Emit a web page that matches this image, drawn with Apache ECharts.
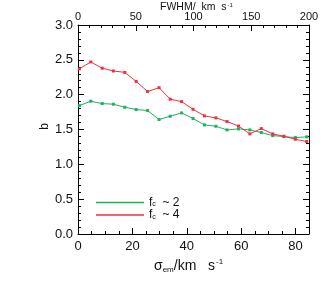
<!DOCTYPE html>
<html>
<head>
<meta charset="utf-8">
<script src="https://cdn.jsdelivr.net/npm/echarts@6/dist/echarts.min.js"></script>
<style>html,body{margin:0;padding:0;background:#fff;}#c{width:332px;height:285px;}</style>
</head>
<body>
<div id="c"></div>
<script>
// sigma_em values (km/s)
const sigmaValues = [0.5, 4.7, 8.9, 13.0, 17.2, 21.4, 25.6, 29.8, 33.9, 38.1, 42.3, 46.5, 50.7, 54.8, 59.0, 63.2, 67.4, 71.6, 75.7, 79.9, 84.1];
// b for f_c ~ 2
const bFc2 = [1.843, 1.906, 1.872, 1.863, 1.82, 1.786, 1.772, 1.643, 1.69, 1.738, 1.657, 1.566, 1.547, 1.494, 1.509, 1.494, 1.456, 1.413, 1.398, 1.384, 1.394];
// b for f_c ~ 4
const bFc4 = [2.37, 2.47, 2.38, 2.34, 2.32, 2.19, 2.045, 2.10, 1.935, 1.90, 1.79, 1.695, 1.667, 1.614, 1.55, 1.437, 1.513, 1.437, 1.403, 1.36, 1.327];
const bottomTicks = [0, 20, 40, 60, 80];
const topTicks = [0, 50, 100, 150, 200];
const yTicks = [0.0, 0.5, 1.0, 1.5, 2.0, 2.5, 3.0];

const FONT = 'Liberation Sans';
const sigmaMax = 200 / 2.3548;
const axisCommon = {
  axisLine: {show: true, onZero: false, lineStyle: {color: '#000', width: 1}},
  axisTick: {show: true, inside: true, length: 6, lineStyle: {color: '#000', width: 1}},
  minorTick: {show: true, length: 3, lineStyle: {color: '#000', width: 1}},
  splitLine: {show: false}
};
const gridBox = {left: 78, right: 23, top: 25, bottom: 51};
const chart = echarts.init(document.getElementById('c'));
chart.setOption({
  animation: false,
  backgroundColor: '#fff',
  grid: [Object.assign({}, gridBox), Object.assign({}, gridBox)],
  xAxis: [
    Object.assign({}, axisCommon, {
      gridIndex: 0, type: 'value', position: 'bottom', min: 0, max: sigmaMax, interval: 20,
      minorTick: Object.assign({}, axisCommon.minorTick, {splitNumber: 4}),
      axisLabel: {fontFamily: FONT, fontSize: 13, color: '#111', margin: 6, showMaxLabel: false, showMinLabel: true, hideOverlap: false,
        formatter: v => bottomTicks.includes(Math.round(v)) && Math.abs(v - Math.round(v)) < 1e-6 ? String(Math.round(v)) : ''}
    }),
    Object.assign({}, axisCommon, {
      gridIndex: 1, type: 'value', position: 'top', min: 0, max: 200, interval: 50,
      minorTick: Object.assign({}, axisCommon.minorTick, {splitNumber: 5}),
      axisLabel: {fontFamily: FONT, fontSize: 11, lineHeight: 8, color: '#111', margin: 4.5, showMinLabel: true, showMaxLabel: true, hideOverlap: false,
        formatter: v => topTicks.includes(v) ? String(v) : ''}
    })
  ],
  yAxis: [
    Object.assign({}, axisCommon, {
      gridIndex: 0, type: 'value', position: 'left', min: 0, max: 3, interval: 0.5,
      minorTick: Object.assign({}, axisCommon.minorTick, {splitNumber: 5}),
      axisLabel: {fontFamily: FONT, fontSize: 13, lineHeight: 8, color: '#111', margin: 5, showMinLabel: true, showMaxLabel: true, hideOverlap: false,
        formatter: v => yTicks.find(t => Math.abs(t - v) < 1e-6) !== undefined ? v.toFixed(1) : ''}
    }),
    Object.assign({}, axisCommon, {
      gridIndex: 0, type: 'value', position: 'right', min: 0, max: 3, interval: 0.5,
      minorTick: Object.assign({}, axisCommon.minorTick, {splitNumber: 5}),
      axisLabel: {show: false}
    }),
    {gridIndex: 1, type: 'value', min: 0, max: 3, show: false}
  ],
  legend: {
    orient: 'vertical', left: 96, top: 196, itemGap: 0, padding: 0,
    icon: 'rect', itemWidth: 48, itemHeight: 1.5,
    textStyle: {fontFamily: FONT, fontSize: 12, color: '#111', lineHeight: 11,
      rich: {a: {fontFamily: FONT, fontSize: 12, color: '#111', lineHeight: 11},
             s: {fontFamily: FONT, fontSize: 7, color: '#111', verticalAlign: 'bottom', lineHeight: 11, padding: [5, 0, 0, 0]}}},
    formatter: name => name === 'fc2' ? '{a|f}{s|c}{a|  ~ 2}' : '{a|f}{s|c}{a|  ~ 4}',
    data: ['fc2', 'fc4']
  },
  series: [
    {name: 'fc2', type: 'line', xAxisIndex: 0, yAxisIndex: 0,
     data: sigmaValues.map((x, i) => [x, bFc2[i]]),
     symbol: 'rect', symbolSize: 3, color: '#20b060',
     lineStyle: {width: 1, color: '#20b060'}, itemStyle: {color: '#20b060'}},
    {name: 'fc4', type: 'line', xAxisIndex: 0, yAxisIndex: 0,
     data: sigmaValues.map((x, i) => [x, bFc4[i]]),
     symbol: 'rect', symbolSize: 3, color: '#f03040',
     lineStyle: {width: 1, color: '#f03040'}, itemStyle: {color: '#f03040'}}
  ],
  graphic: [
    {type: 'text', left: 39, top: 123, rotation: Math.PI / 2,
     style: {text: 'b', fontFamily: FONT, fontSize: 12, fill: '#111'}},
    {type: 'text', left: 154, top: 258,
     style: {text: '{a|σ}{s|em}{a|/km   s}{p|-1}', fill: '#111',
       rich: {a: {fontFamily: FONT, fontSize: 14, fill: '#111'},
              s: {fontFamily: FONT, fontSize: 8, fill: '#111', verticalAlign: 'bottom', padding: [8, 0, 0, 0]},
              p: {fontFamily: FONT, fontSize: 8, fill: '#111', verticalAlign: 'top', padding: [0, 0, 8, 1]}}}},
    {type: 'text', left: 160, top: 2,
     style: {text: '{a|FWHM/  km  s}{p|-1}', fill: '#111',
       rich: {a: {fontFamily: FONT, fontSize: 10.5, fill: '#111'},
              p: {fontFamily: FONT, fontSize: 6, fill: '#111', verticalAlign: 'top', padding: [0, 0, 5, 1]}}}}
  ]
});
</script>
</body>
</html>
